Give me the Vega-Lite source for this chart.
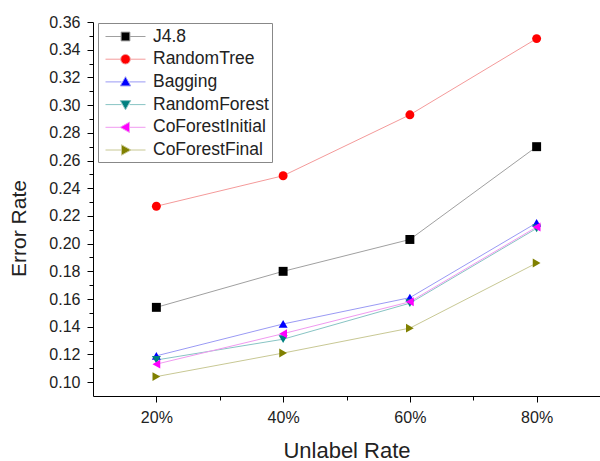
{
  "$schema": "https://vega.github.io/schema/vega-lite/v6.json",
  "width": 507,
  "height": 374,
  "autosize": "none",
  "padding": {"left": 93, "top": 22, "right": 0, "bottom": 65},
  "background": "white",
  "config": {
    "font": "Liberation Sans",
    "view": {"stroke": null},
    "axis": {"grid": false, "domainColor": "#000000", "tickColor": "#000000", "labelColor": "#222222", "titleColor": "#222222", "labelFont": "Liberation Sans", "titleFont": "Liberation Sans", "titleFontWeight": "normal"}
  },
  "data": {
    "values": [
      {"rate": 20, "series": "J4.8", "err": 0.154},
      {"rate": 40, "series": "J4.8", "err": 0.180},
      {"rate": 60, "series": "J4.8", "err": 0.203},
      {"rate": 80, "series": "J4.8", "err": 0.270},
      {"rate": 20, "series": "RandomTree", "err": 0.227},
      {"rate": 40, "series": "RandomTree", "err": 0.249},
      {"rate": 60, "series": "RandomTree", "err": 0.293},
      {"rate": 80, "series": "RandomTree", "err": 0.348},
      {"rate": 20, "series": "Bagging", "err": 0.119},
      {"rate": 40, "series": "Bagging", "err": 0.142},
      {"rate": 60, "series": "Bagging", "err": 0.161},
      {"rate": 80, "series": "Bagging", "err": 0.215},
      {"rate": 20, "series": "RandomForest", "err": 0.116},
      {"rate": 40, "series": "RandomForest", "err": 0.131},
      {"rate": 60, "series": "RandomForest", "err": 0.157},
      {"rate": 80, "series": "RandomForest", "err": 0.211},
      {"rate": 20, "series": "CoForestInitial", "err": 0.113},
      {"rate": 40, "series": "CoForestInitial", "err": 0.135},
      {"rate": 60, "series": "CoForestInitial", "err": 0.158},
      {"rate": 80, "series": "CoForestInitial", "err": 0.212},
      {"rate": 20, "series": "CoForestFinal", "err": 0.104},
      {"rate": 40, "series": "CoForestFinal", "err": 0.121},
      {"rate": 60, "series": "CoForestFinal", "err": 0.139},
      {"rate": 80, "series": "CoForestFinal", "err": 0.186}
    ]
  },
  "encoding": {
    "x": {
      "field": "rate", "type": "quantitative",
      "scale": {"domain": [10, 90], "nice": false, "zero": false},
      "axis": {
        "title": "Unlabel Rate",
        "values": [20, 30, 40, 50, 60, 70, 80],
        "labelExpr": "datum.value % 20 == 0 ? datum.value + '%' : ''",
        "tickSize": {"condition": {"test": "datum.value % 20 == 0", "value": 6}, "value": 4},
        "labelFontSize": 16, "labelPadding": 7,
        "titleFontSize": 22, "titlePadding": 15
      }
    },
    "y": {
      "field": "err", "type": "quantitative",
      "scale": {"domain": [0.09, 0.36], "nice": false, "zero": false},
      "axis": {
        "title": "Error Rate",
        "values": [0.10, 0.11, 0.12, 0.13, 0.14, 0.15, 0.16, 0.17, 0.18, 0.19, 0.20, 0.21, 0.22, 0.23, 0.24, 0.25, 0.26, 0.27, 0.28, 0.29, 0.30, 0.31, 0.32, 0.33, 0.34, 0.35, 0.36],
        "labelExpr": "round(datum.value*100) % 2 == 0 ? format(datum.value, '.2f') : ''",
        "tickSize": {"condition": {"test": "round(datum.value*100) % 2 == 0", "value": 6}, "value": 4},
        "labelFontSize": 16, "labelPadding": 7,
        "titleFontSize": 21,
        "titleX": -74, "titleY": 206, "titleAngle": -90, "titleBaseline": "middle"
      }
    }
  },
  "layer": [
    {
      "mark": {"type": "line", "strokeWidth": 1},
      "encoding": {
        "color": {
          "field": "series", "type": "nominal", "legend": null,
          "scale": {"domain": ["J4.8", "RandomTree", "Bagging", "RandomForest", "CoForestInitial", "CoForestFinal"],
                    "range": ["#a0a0a0", "#f49a9a", "#9a9af4", "#88c4c4", "#f09af0", "#c8c894"]}
        }
      }
    },
    {
      "mark": {"type": "point", "filled": true, "opacity": 1, "size": 80},
      "encoding": {
        "color": {
          "field": "series", "type": "nominal", "legend": null,
          "scale": {"domain": ["J4.8", "RandomTree", "Bagging", "RandomForest", "CoForestInitial", "CoForestFinal"],
                    "range": ["#000000", "#ff0000", "#0000ff", "#008080", "#ff00ff", "#808000"]}
        },
        "shape": {
          "field": "series", "type": "nominal", "legend": null,
          "scale": {"domain": ["J4.8", "RandomTree", "Bagging", "RandomForest", "CoForestInitial", "CoForestFinal"],
                    "range": ["square", "circle", "triangle-up", "triangle-down", "triangle-left", "triangle-right"]}
        }
      }
    },
    {
      "transform": [{"filter": "false"}],
      "mark": {"type": "point", "filled": true, "opacity": 1, "size": 400, "strokeWidth": 1},
      "encoding": {
        "fill": {
          "field": "series", "type": "nominal",
          "scale": {"domain": ["J4.8", "RandomTree", "Bagging", "RandomForest", "CoForestInitial", "CoForestFinal"],
                    "range": ["#000000", "#ff0000", "#0000ff", "#008080", "#ff00ff", "#808000"]},
          "legend": {
            "title": null, "orient": "none", "legendX": 5, "legendY": 1,
            "strokeColor": "#888888", "padding": 3, "symbolSize": 400, "symbolStrokeWidth": 1, "symbolOffset": 14,
            "labelFontSize": 17.5, "labelColor": "#222222", "labelFont": "Liberation Sans", "rowPadding": 3.7, "labelOffset": 17
          }
        },
        "stroke": {
          "field": "series", "type": "nominal",
          "scale": {"domain": ["J4.8", "RandomTree", "Bagging", "RandomForest", "CoForestInitial", "CoForestFinal"],
                    "range": ["#a0a0a0", "#f49a9a", "#9a9af4", "#88c4c4", "#f09af0", "#c8c894"]}
        },
        "shape": {
          "field": "series", "type": "nominal",
          "scale": {"domain": ["J4.8", "RandomTree", "Bagging", "RandomForest", "CoForestInitial", "CoForestFinal"],
                    "range": [
                      "M-2,0 L-0.46,0 M0.46,0 L2,0 M-0.44,-0.44 L0.44,-0.44 L0.44,0.44 L-0.44,0.44 Z",
                      "M-2,0 L-0.5,0 M0.5,0 L2,0 M-0.48,0 A0.48,0.48 0 1,0 0.48,0 A0.48,0.48 0 1,0 -0.48,0 Z",
                      "M-2,0 L-0.4,0 M0.4,0 L2,0 M0,-0.52 L0.52,0.4 L-0.52,0.4 Z",
                      "M-2,0 L-0.4,0 M0.4,0 L2,0 M0,0.52 L0.52,-0.4 L-0.52,-0.4 Z",
                      "M-2,0 L-0.54,0 M0.4,0 L2,0 M-0.54,0 L0.4,-0.52 L0.4,0.52 Z",
                      "M-2,0 L-0.4,0 M0.54,0 L2,0 M0.54,0 L-0.4,-0.52 L-0.4,0.52 Z"
                    ]}
        }
      }
    }
  ],
  "resolve": {"scale": {"color": "independent", "shape": "independent", "fill": "independent", "stroke": "independent"}}
}
